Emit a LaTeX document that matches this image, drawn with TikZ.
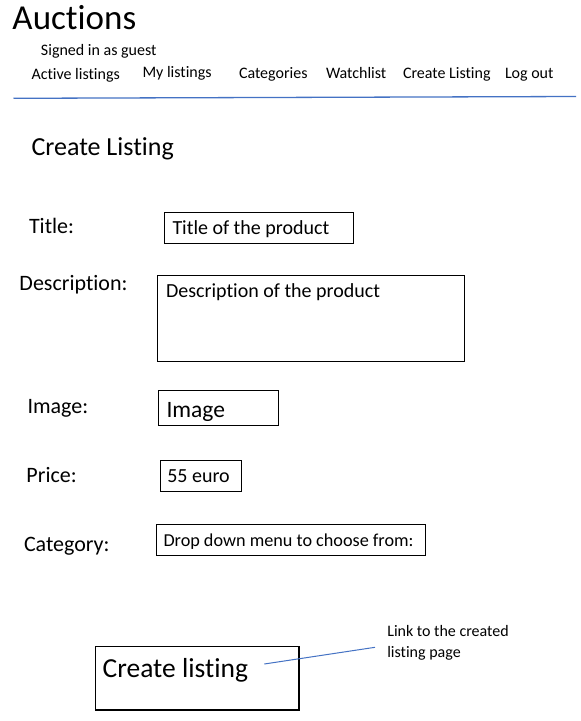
\documentclass[tikz,border=0pt]{standalone}
\usepackage{fontspec}
\setmainfont{Carlito}[Ligatures={NoCommon,NoContextual}]
\definecolor{officeblue}{RGB}{68,114,196}
\newcommand{\fsz}[1]{\fontsize{#1}{1.2\dimexpr#1pt\relax}\selectfont}
\begin{document}
\begin{tikzpicture}[x=1pt,y=-1pt,
  txt/.style={anchor=base west, inner sep=0pt, outer sep=0pt, text=black},
  fieldbox/.style={draw=black, line width=1pt, anchor=north west, inner sep=0pt, outer sep=0pt},
  bluelink/.style={draw=officeblue, line width=1pt}]
\path[use as bounding box, fill=white] (0,0) rectangle (581,721);

% header
\node[txt, font=\fsz{35}] (auctions) at (12.5,29.5) {Auctions};
\node[txt, font=\fsz{16}] (signed) at (41,55) {Signed in as guest};
\node[txt, font=\fsz{16}] (nav1) at (31.5,79) {Active listings};
\node[txt, font=\fsz{16}] (nav2) at (142.5,77.5) {My listings};
\node[txt, font=\fsz{16}] (nav3) at (239,78) {Categories};
\node[txt, font=\fsz{16}] (nav4) at (326,78) {Watchlist};
\node[txt, font=\fsz{16}] (nav5) at (403,78) {Create Listing};
\node[txt, font=\fsz{16}] (nav6) at (505,78) {Log out};
\coordinate (hrL) at (13.5,98.3);
\coordinate (hrR) at (576,96.5);
\draw[bluelink, line width=1.3pt] (hrL) -- (hrR);

% heading
\node[txt, font=\fsz{26}] (heading) at (31.5,155) {Create Listing};

% labels
\node[txt, font=\fsz{22}] (ltitle) at (29,233) {Title:};
\node[txt, font=\fsz{22}] (ldesc) at (19.5,290) {Description:};
\node[txt, font=\fsz{22}] (limage) at (27.5,413.5) {Image:};
\node[txt, font=\fsz{22}] (lprice) at (26.5,482.5) {Price:};
\node[txt, font=\fsz{22}] (lcat) at (24,551) {Category:};

% field boxes
\node[fieldbox, minimum width=189pt, minimum height=30.5pt] (btitle) at (164.3,212.7) {};
\node[txt, font=\fsz{20}] (ttitle) at (172.5,234.3) {Title of the product};

\node[fieldbox, minimum width=307pt, minimum height=85.5pt] (bdesc) at (157.3,275.7) {};
\node[txt, font=\fsz{20}] (tdesc) at (166,297.7) {Description of the product};

\node[fieldbox, minimum width=120pt, minimum height=35pt] (bimage) at (158.3,390.7) {};
\node[txt, font=\fsz{23.5}] (timage) at (166.5,417.5) {Image};

\node[fieldbox, minimum width=81pt, minimum height=31pt] (bprice) at (160.3,460.7) {};
\node[txt, font=\fsz{20}] (tprice) at (167.3,482.7) {55 euro};

\node[fieldbox, minimum width=269.4pt, minimum height=30.7pt] (bcat) at (156.3,524.3) {};
\node[txt, font=\fsz{18.2}] (tcat) at (163.5,546) {Drop down menu to choose from:};

% create listing button
\node[fieldbox, line width=1.2pt, minimum width=203.3pt, minimum height=63.7pt] (bcreate) at (95.7,646.3) {};
\node[txt, font=\fsz{27.5}] (tcreate) at (102.7,677.3) {Create listing};

% annotation
\node[txt, font=\fsz{16}] (note1) at (387.3,636.7) {Link to the created};
\node[txt, font=\fsz{16}] (note2) at (387.3,657.3) {listing page};
\coordinate (linkstart) at (264.3,664);
\coordinate (linkend) at (375,647.3);
\draw[bluelink] (linkstart) -- (linkend);
\end{tikzpicture}
\end{document}
